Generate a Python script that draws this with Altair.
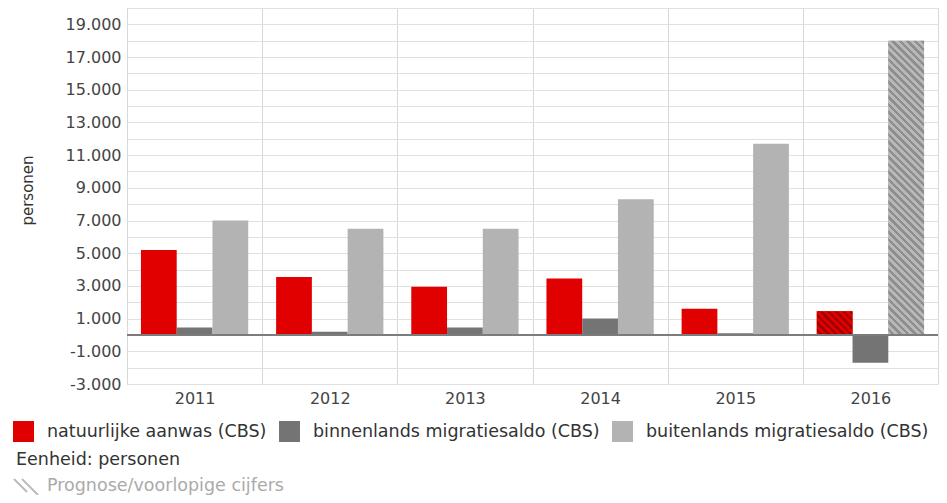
import altair as alt
import pandas as pd

# ---- data ----
years = ["2011", "2012", "2013", "2014", "2015", "2016"]
series = [
    "natuurlijke aanwas (CBS)",
    "binnenlands migratiesaldo (CBS)",
    "buitenlands migratiesaldo (CBS)",
]
natuurlijke_aanwas = [5200, 3550, 2950, 3450, 1600, 1450]
binnenlands_saldo = [450, 200, 450, 1000, 100, -1700]
buitenlands_saldo = [7000, 6500, 6500, 8300, 11700, 18000]
prognose_jaar = "2016"
colors = ["#e00000", "#747474", "#b3b3b3"]

y_ticks = list(range(-3000, 20001, 1000))

rows = []
for s, vals in zip(series, [natuurlijke_aanwas, binnenlands_saldo, buitenlands_saldo]):
    for y, v in zip(years, vals):
        rows.append({"jaar": y, "reeks": s, "waarde": v})
df = pd.DataFrame(rows)

# ---- layout / style ----
W, H = 811, 376
Y_MIN, Y_MAX = -3000, 20000
FONT = "DejaVu Sans"
BAR_W = (W / len(years)) / 3.78
PX = H / (Y_MAX - Y_MIN)


def hatch(value, base, stripe, pitch=7.5, frac=0.45):
    w, h = BAR_W, abs(value) * PX
    total = w + h
    k = total / (w * w + h * h)
    n = total / pitch
    stops = []
    i = 0
    while i < n:
        a = min(i / n, 1.0)
        b = min((i + frac) / n, 1.0)
        c = min((i + 1) / n, 1.0)
        stops += [(a, stripe), (b, stripe), (b, base), (c, base)]
        i += 1
    return alt.LinearGradient(
        gradient="linear", x1=1, y1=0, x2=1 - k * w, y2=k * h,
        stops=[alt.GradientStop(offset=o, color=col) for o, col in stops],
    )


x_enc = alt.X(
    "jaar:N", sort=years, title=None,
    scale=alt.Scale(paddingInner=0, paddingOuter=0),
    axis=alt.Axis(labelAngle=0, grid=True, tickBand="extent", ticks=False, tickSize=0,
                  domain=False, labelFont=FONT, labelFontSize=16, labelColor="#444",
                  labelPadding=6, gridColor="#d8d8d8"),
)
xo_enc = alt.XOffset("reeks:N", sort=series,
                     scale=alt.Scale(paddingInner=0, paddingOuter=0.39))
y_enc = alt.Y(
    "waarde:Q", title="personen",
    scale=alt.Scale(domain=[Y_MIN, Y_MAX], nice=False, zero=False),
    axis=alt.Axis(values=y_ticks, tickCount=100, grid=True, ticks=False, tickSize=0,
                  domain=False, labelOverlap=False,
                  gridColor="#e0e0e0", labelFont=FONT, labelFontSize=16, labelColor="#444",
                  labelPadding=6,
                  labelExpr="(datum.value/1000) % 2 != 0 ? (datum.value < 0 ? '-' : '') + "
                            "replace(format(abs(datum.value), ','), ',', '.') : ''",
                  titleFont=FONT, titleFontSize=15, titleFontWeight="normal",
                  titleColor="#333", titleAngle=-90, titleX=-100, titleY=182,
                  titleAlign="center", titleBaseline="middle"),
)

bars = alt.Chart(df).mark_bar(strokeWidth=0).encode(
    x=x_enc, xOffset=xo_enc, y=y_enc,
    color=alt.Color(
        "reeks:N", sort=series,
        scale=alt.Scale(domain=series, range=colors),
        legend=alt.Legend(orient="none", legendX=-114, legendY=413, direction="horizontal",
                          title=None, symbolType="square", symbolSize=441,
                          symbolStrokeWidth=0, labelFont=FONT, labelFontSize=17.5,
                          labelColor="#333", labelOffset=13, columnPadding=12,
                          padding=0, labelLimit=0),
    ),
)

red_2016 = natuurlijke_aanwas[years.index(prognose_jaar)]
grey_2016 = buitenlands_saldo[years.index(prognose_jaar)]

hatch_red = alt.Chart(df).transform_filter(
    f"datum.jaar == '{prognose_jaar}' && datum.reeks == '{series[0]}'"
).mark_bar(fill=hatch(red_2016, "#e00000", "#a30000"), strokeWidth=0).encode(
    x=x_enc, xOffset=xo_enc, y=y_enc)

hatch_grey = alt.Chart(df).transform_filter(
    f"datum.jaar == '{prognose_jaar}' && datum.reeks == '{series[2]}'"
).mark_bar(fill=hatch(grey_2016, "#b8b8b8", "#8e8e8e"), strokeWidth=0).encode(
    x=x_enc, xOffset=xo_enc, y=y_enc)

zero = alt.Chart(alt.Data(values=[{}])).mark_rule(color="#7c7c7c", strokeWidth=2).encode(
    y=alt.datum(0))

eenheid = alt.Chart(alt.Data(values=[{"t": "Eenheid: personen"}])).mark_text(
    align="left", baseline="middle", font=FONT, fontSize=17.5, color="#333"
).encode(text="t:N", x=alt.value(-111), y=alt.value(452))

prognose = alt.Chart(alt.Data(values=[{"t": "Prognose/voorlopige cijfers"}])).mark_text(
    align="left", baseline="middle", font=FONT, fontSize=17.5, color="#aaaaaa"
).encode(text="t:N", x=alt.value(-80), y=alt.value(478))

icon1 = alt.Chart(alt.Data(values=[{}])).mark_rule(color="#bbbbbb", strokeWidth=2).encode(
    x=alt.value(-113), x2=alt.value(-100), y=alt.value(471), y2=alt.value(484))
icon2 = alt.Chart(alt.Data(values=[{}])).mark_rule(color="#bbbbbb", strokeWidth=2).encode(
    x=alt.value(-105), x2=alt.value(-89), y=alt.value(471), y2=alt.value(487))

chart = alt.layer(bars, hatch_red, hatch_grey, zero, eenheid, prognose, icon1, icon2).properties(
    width=W, height=H,
    autosize=alt.AutoSizeParams(type="none"),
    padding={"left": 119, "top": 0, "right": 1, "bottom": 111},
).configure_view(stroke="#d0d0d0", strokeWidth=1)

chart.save("out.html", embed_options={"renderer": "svg", "actions": False})
